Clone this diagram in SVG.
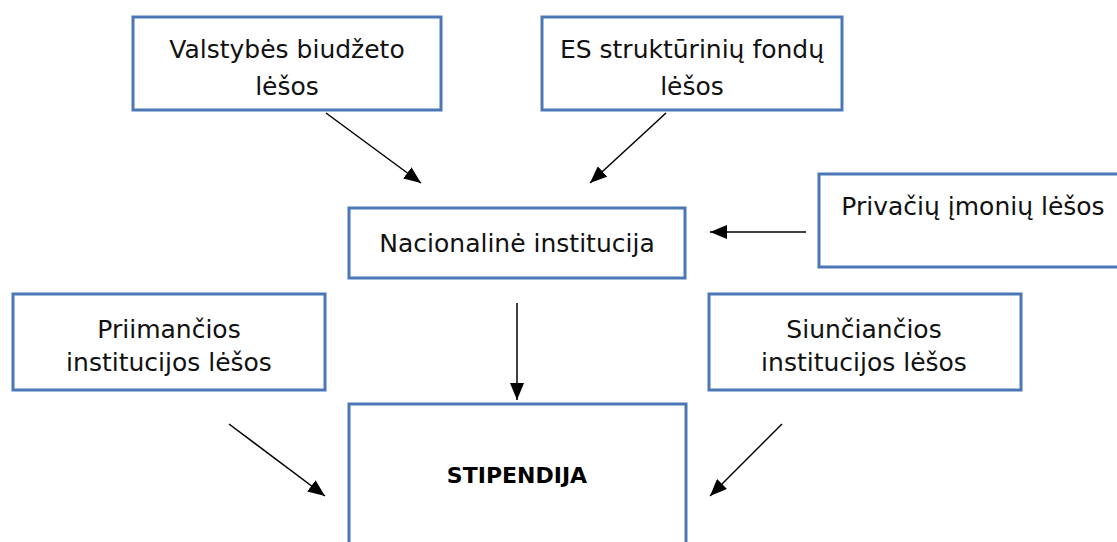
<svg xmlns="http://www.w3.org/2000/svg" width="1117" height="542" viewBox="0 0 1117 542">
<style>
.box{fill:#ffffff;stroke:#4a78b6;stroke-width:3}
.t{font-family:"DejaVu Sans",sans-serif;font-size:25px;fill:#111;text-anchor:middle}
.b{font-family:"DejaVu Sans",sans-serif;font-size:22px;font-weight:bold;fill:#000;text-anchor:middle}
.c{stroke:#000;stroke-width:1.5;fill:none;marker-end:url(#ah)}
</style>
<defs>
<marker id="ah" markerUnits="userSpaceOnUse" markerWidth="17" markerHeight="14" refX="17" refY="7" orient="auto" viewBox="0 0 17 14">
<path d="M0,0 L17,7 L0,14 z" fill="#000"/>
</marker>
</defs>
<rect width="1117" height="542" fill="#fff"/>
<g id="n-valstybes">
<rect class="box" x="133" y="17" width="308" height="93"/>
<text class="t" x="287" y="58">Valstybės biudžeto</text>
<text class="t" x="287" y="95">lėšos</text>
</g>
<g id="n-es">
<rect class="box" x="542" y="17" width="300" height="93"/>
<text class="t" x="692" y="58">ES struktūrinių fondų</text>
<text class="t" x="692" y="95">lėšos</text>
</g>
<g id="n-nacionaline">
<rect class="box" x="349" y="208" width="336" height="70"/>
<text class="t" x="517" y="252">Nacionalinė institucija</text>
</g>
<g id="n-privaciu">
<rect class="box" x="819" y="174" width="310" height="93"/>
<text class="t" x="973" y="215">Privačių įmonių lėšos</text>
</g>
<g id="n-priimancios">
<rect class="box" x="13" y="294" width="312" height="96"/>
<text class="t" x="169" y="338">Priimančios</text>
<text class="t" x="169" y="371">institucijos lėšos</text>
</g>
<g id="n-siunciancios">
<rect class="box" x="709" y="294" width="312" height="96"/>
<text class="t" x="864" y="338">Siunčiančios</text>
<text class="t" x="864" y="371">institucijos lėšos</text>
</g>
<g id="n-stipendija">
<rect class="box" x="349" y="404" width="337" height="160"/>
<text class="b" x="517" y="483">STIPENDIJA</text>
</g>
<g id="connectors">
<line class="c" x1="326" y1="113" x2="421" y2="183"/>
<line class="c" x1="666" y1="113" x2="590" y2="183"/>
<line class="c" x1="806" y1="232" x2="710" y2="232"/>
<line class="c" x1="517" y1="303" x2="517" y2="400"/>
<line class="c" x1="229" y1="424" x2="325" y2="496"/>
<line class="c" x1="782" y1="424" x2="710" y2="496"/>
</g>
</svg>
